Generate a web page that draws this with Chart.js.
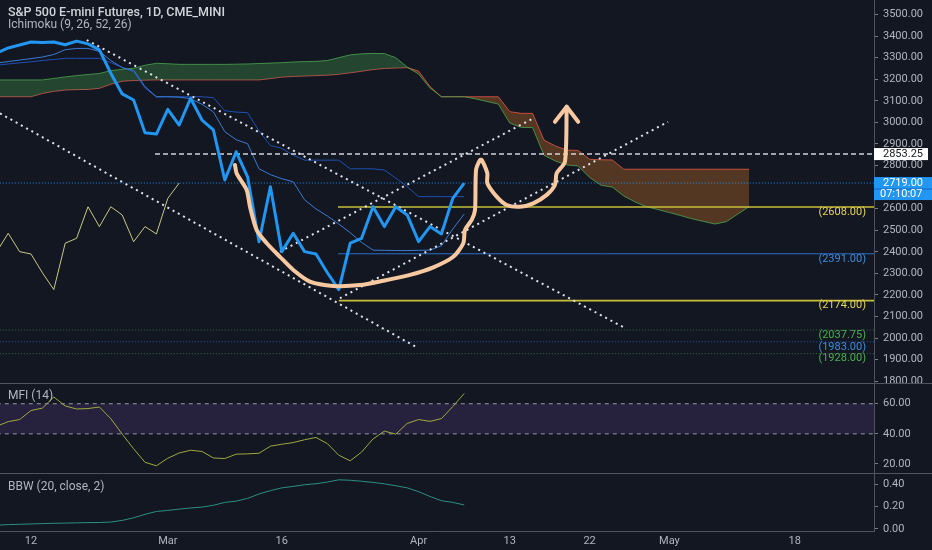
<!DOCTYPE html>
<html lang="en">
<head>
<meta charset="UTF-8">
<title>S&amp;P 500 E-mini Futures, 1D, CME_MINI</title>
<script src="https://cdn.jsdelivr.net/npm/chart.js@4.4.1/dist/chart.umd.min.js"></script>
<style>
    html, body { margin: 0; padding: 0; background: #131722; }
    #wrap { position: relative; width: 932px; height: 550px; background: #131722; overflow: hidden;
            font-family: Roboto, 'Noto Sans', sans-serif; }
    .pane { position: absolute; left: 0; width: 932px; }
    .sep { position: absolute; left: 0; width: 932px; height: 1px; background: #50535e; }
    .title { position: absolute; left: 8px; color: #b2b5be; font-size: 12px; white-space: nowrap; }
</style>
</head>
<body>
<div id="wrap">
    <div class="pane" style="top:0;height:383px"><canvas id="mainChart"></canvas></div>
    <div class="sep" style="top:383px"></div>
    <div class="pane" style="top:384px;height:89px"><canvas id="mfiChart"></canvas></div>
    <div class="sep" style="top:473px"></div>
    <div class="pane" style="top:474px;height:76px"><canvas id="bbwChart"></canvas></div>
    <div class="title" style="top:4px;font-size:12.5px;font-weight:500;color:#d1d4dc">S&amp;P 500 E-mini Futures, 1D, CME_MINI</div>
    <div class="title" style="top:17px">Ichimoku (9, 26, 52, 26)</div>
    <div class="title" style="top:388px">MFI (14)</div>
    <div class="title" style="top:479px">BBW (20, close, 2)</div>
</div>

<script>
    // bar index 0 = Feb 12; series start at bar -3
    const firstBar = -3;
    const xMin = -2.72, xMax = 73.95;

    const tickBars = [0, 12, 22, 34, 42, 49, 56, 67];
    const tickLabels = ['12', 'Mar', '16', 'Apr', '13', '22', 'May', '18'];

    const closes = [3322, 3345, 3359, 3373, 3370, 3373, 3360, 3377, 3364, 3336, 3228, 3132, 3104, 2952, 2946, 3061, 2988, 3112, 3011, 2965,
                    2733, 2864, 2748, 2447, 2702, 2401, 2486, 2401, 2390, 2303, 2225, 2440, 2463, 2609, 2517, 2609, 2571, 2447, 2517, 2483, 2648, 2719];
    const tenkan = [3275, 3282, 3289, 3296, 3303, 3315, 3337, 3343, 3343, 3329, 3287, 3254, 3241, 3166, 3119, 3119, 3117, 3110, 3084, 3049,
                    2957, 2920, 2901, 2785, 2758, 2739, 2725, 2641, 2599, 2566, 2529, 2489, 2444, 2408, 2407, 2406, 2406, 2407, 2408, 2428, 2506, 2575];
    const kijun = [3265, 3271, 3276, 3281, 3287, 3292, 3297, 3297, 3297, 3297, 3277, 3255, 3235, 3160, 3118, 3119, 3119, 3119, 3119, 3115,
                   3054, 3048, 3045, 2961, 2893, 2880, 2848, 2825, 2825, 2825, 2825, 2785, 2785, 2785, 2779, 2742, 2702, 2656, 2656, 2656, 2656, 2656];
    const chikouShift = 25;
    const senkouA = [3197, 3197, 3197, 3197, 3197, 3204, 3211, 3217, 3222, 3227, 3240, 3246, 3251, 3265, 3274, 3272, 3269, 3269, 3269, 3269,
                     3269, 3270, 3271, 3273, 3275, 3277, 3280, 3282, 3283, 3287, 3300, 3313, 3318, 3320, 3319, 3300, 3257, 3224, 3160, 3119,
                     3119, 3119, 3109, 3097, 3085, 2997, 2977, 2976, 2848, 2821, 2803, 2798, 2745, 2709, 2700, 2659, 2631, 2609, 2596, 2582,
                     2568, 2553, 2541, 2529, 2540, 2575, 2610];
    const senkouB = [3119, 3119, 3119, 3119, 3134, 3144, 3150, 3152, 3153, 3158, 3177, 3191, 3194, 3196, 3197, 3197, 3197, 3197, 3197, 3197,
                     3197, 3197, 3197, 3197, 3203, 3210, 3213, 3215, 3217, 3219, 3223, 3230, 3237, 3245, 3250, 3252, 3254, 3238, 3166, 3119,
                     3119, 3119, 3119, 3119, 3119, 3050, 3042, 3042, 2918, 2891, 2872, 2870, 2829, 2827, 2826, 2783, 2783, 2783, 2783, 2783,
                     2783, 2783, 2783, 2783, 2783, 2783, 2783];
    const mfi = [45.1, 48.1, 49.5, 55.5, 57.1, 64.5, 58.5, 56.5, 56.8, 57.8, 50.1, 39.8, 30.1, 21.1, 18.8, 23.8, 27.3, 29.1, 28.3, 24,
                 23.6, 26.5, 26.7, 27.1, 31.8, 33.1, 34.2, 36.1, 37.6, 33.5, 25.8, 22.1, 27.9, 36.6, 41.8, 39.8, 46.9, 49.5, 48.3, 50.1, 58.1, 66.8];
    const bbw = [0.034, 0.039, 0.042, 0.045, 0.048, 0.051, 0.053, 0.055, 0.057, 0.058, 0.062, 0.077, 0.1, 0.131, 0.157, 0.166, 0.178, 0.188,
                 0.196, 0.212, 0.238, 0.249, 0.274, 0.313, 0.343, 0.368, 0.381, 0.396, 0.405, 0.42, 0.44, 0.436, 0.427, 0.417, 0.404, 0.387,
                 0.368, 0.334, 0.291, 0.253, 0.238, 0.215];

    const priceTicks = [1800, 1900, 2000, 2100, 2200, 2300, 2400, 2500, 2600, 2700, 2800, 2900, 3000, 3100, 3200, 3300, 3400, 3500];
    const mfiTicks = [20, 40, 60];
    const mfiBand = [40, 60];
    const bbwTicks = [0, 0.2, 0.4];

    // drawn levels (price, first bar)
    const levelPrices = [2853.25, 2719, 2608, 2391, 2174, 2037.75, 1983, 1928];
    const levelStarts = [10.88, -3, 26.93, 26.93, 27.0, -3, -3, -3];
    const labelledLevels = [2608, 2391, 2174, 2037.75, 1983, 1928];
    const lastPrice = 2719;
    const countdown = '07:10:07';
    const markedPrice = 2853.25;

    // trend lines: [bar0, price0, bar1, price1]
    const trendLines = [
        [4.89, 3382, 52.1, 2047],
        [-2.72, 3042, 33.95, 1954],
        [21.84, 2401, 44.06, 3019],
        [27.1, 2185, 55.88, 3003]
    ];

    // hand drawn cup & handle sketch
    const cupBars = [17.89, 18.04, 18.92, 19.21, 19.8, 20.68, 21.84, 23.01, 24.47, 26.52, 28.86, 30.9, 33.25, 35.29, 37.04, 37.92, 38.07,
                     38.66, 38.95, 39.04, 39.39, 39.54, 40.03, 40.03, 40.85, 41.73, 42.89, 44.06, 45.24, 45.96, 46.11, 46.84, 46.99];
    const cupPrices = [2803, 2764, 2687, 2609, 2501, 2440, 2377, 2316, 2262, 2242, 2246, 2266, 2293, 2328, 2377, 2440, 2501,
                       2548, 2594, 2779, 2826, 2826, 2764, 2718, 2656, 2617, 2609, 2625, 2664, 2710, 2764, 2818, 3073];
    const arrowBars = [45.96, 46.99, 48.0];
    const arrowPrices = [3003, 3073, 3003];

    const BG = '#131722';
    const AXIS_TEXT = '#b2b5be';
    const FONT = 'Roboto, "Noto Sans", sans-serif';

    const levelStyles = [
        { color: '#d1d4dc', dash: [5, 3], width: 1.5 },
        { color: 'rgba(33,150,243,0.9)', dash: [1, 2], width: 1 },
        { color: '#c9bf3c', dash: [], width: 1.3 },
        { color: '#2a6fc9', dash: [], width: 1 },
        { color: '#c9bf3c', dash: [], width: 1.8 },
        { color: 'rgba(76,175,80,0.6)', dash: [1, 2], width: 1 },
        { color: 'rgba(41,121,255,0.7)', dash: [1, 2], width: 1 },
        { color: 'rgba(76,175,80,0.6)', dash: [1, 2], width: 1 }
    ];
    const labelColors = { 2608: '#e3d45a', 2391: '#3d8bdb', 2174: '#e3d45a', 2037.75: '#4caf50', 1983: '#3d8bdb', 1928: '#4caf50' };

    function series(values, start) {
        return values.map((v, k) => ({ x: start + k, y: v }));
    }
    function pairs(xs, ys) {
        return xs.map((x, k) => ({ x: x, y: ys[k] }));
    }
    function line(data, color, width, extra) {
        return Object.assign({ data: data, borderColor: color, borderWidth: width, pointRadius: 0, fill: false, tension: 0 }, extra || {});
    }

    function yAxis(min, max, ticks, digits) {
        return {
            position: 'right', min: min, max: max,
            afterBuildTicks: s => { s.ticks = ticks.map(v => ({ value: v })); },
            afterFit: s => { s.width = 58; s.paddingTop = 0; s.paddingBottom = 0; },
            grid: { drawOnChartArea: false, drawTicks: true, tickLength: 4, tickColor: '#787b86' },
            border: { display: true, color: '#50535e' },
            ticks: { color: AXIS_TEXT, font: { family: FONT, size: 11 }, padding: 5, autoSkip: false,
                     callback: v => Number(v).toFixed(digits) }
        };
    }
    const hiddenX = { type: 'linear', min: xMin, max: xMax, display: false };

    // ---------- main pane ----------
    // cloud: green where span A is on top, orange where span B is on top
    const cloudHi = senkouA.map((a, k) => Math.max(a, senkouB[k]));
    const cloudLo = senkouA.map((a, k) => Math.min(a, senkouB[k]));

    const ds = [];
    const idxB = ds.push(line(series(senkouB, firstBar), 'rgba(239,83,80,0.75)', 1)) - 1;
    ds.push(line(series(cloudHi, firstBar), 'rgba(0,0,0,0)', 0, { fill: idxB, backgroundColor: 'rgba(76,175,80,0.3)' }));
    ds.push(line(series(cloudLo, firstBar), 'rgba(0,0,0,0)', 0, { fill: idxB, backgroundColor: 'rgba(255,140,40,0.28)' }));
    ds.push(line(series(senkouA, firstBar), 'rgba(76,175,80,0.75)', 1));
    ds.push(line(closes.map((v, j) => ({ x: firstBar + j - chikouShift, y: v })), 'rgba(232,230,150,0.85)', 1));
    ds.push(line(series(kijun, firstBar), '#1f4fb4', 1));
    ds.push(line(series(tenkan, firstBar), '#3a7bd5', 1));
    levelPrices.forEach((p, k) => {
        const st = levelStyles[k];
        ds.push(line([{ x: levelStarts[k], y: p }, { x: 80, y: p }], st.color, st.width, { borderDash: st.dash }));
    });
    trendLines.forEach(t => {
        ds.push(line([{ x: t[0], y: t[1] }, { x: t[2], y: t[3] }], '#e0e3eb', 2, { borderDash: [2, 4] }));
    });
    ds.push(line(series(closes, firstBar), '#2196f3', 3, { borderJoinStyle: 'round' }));
    ds.push(line(pairs(cupBars, cupPrices), '#f8c9a0', 4, { tension: 0.25, borderCapStyle: 'round', borderJoinStyle: 'round' }));
    ds.push(line(pairs(arrowBars, arrowPrices), '#f8c9a0', 4, { borderCapStyle: 'round', borderJoinStyle: 'round' }));
    ds.forEach((d, k) => { d.order = -k; });

    const overlay = {
        id: 'overlay',
        afterDraw(chart) {
            const ctx = chart.ctx, y = chart.scales.y, right = chart.chartArea.right;
            ctx.save();
            ctx.font = '11px ' + FONT;
            ctx.textBaseline = 'middle';
            ctx.textAlign = 'right';
            labelledLevels.forEach(p => {
                ctx.fillStyle = labelColors[p];
                ctx.fillText('(' + p.toFixed(2) + ')', right - 8, y.getPixelForValue(p) + 5);
            });
            ctx.textAlign = 'left';
            // marked price box
            let py = y.getPixelForValue(markedPrice);
            ctx.fillStyle = '#ffffff';
            ctx.fillRect(right, py - 6, 54, 12);
            ctx.fillStyle = BG;
            ctx.fillText(markedPrice.toFixed(2), right + 9, py + 0.5);
            // last price + countdown
            py = y.getPixelForValue(lastPrice);
            ctx.fillStyle = '#2196f3';
            ctx.fillRect(right, py - 6, 58, 23);
            ctx.fillStyle = '#1565c0';
            ctx.fillRect(right, py + 5.5, 58, 1);
            ctx.fillStyle = '#ffffff';
            ctx.fillText(lastPrice.toFixed(2), right + 9, py + 0.5);
            ctx.fillText(countdown, right + 6, py + 11.5);
            ctx.restore();
        }
    };

    new Chart(document.getElementById('mainChart'), {
        type: 'line',
        data: { datasets: ds },
        options: {
            responsive: true, maintainAspectRatio: false, animation: false,
            layout: { padding: 0 },
            plugins: { legend: { display: false }, tooltip: { enabled: false } },
            scales: { x: hiddenX, y: yAxis(1792, 3567.5, priceTicks, 2) }
        },
        plugins: [overlay]
    });

    // ---------- MFI pane ----------
    new Chart(document.getElementById('mfiChart'), {
        type: 'line',
        data: {
            datasets: [
                line(series(mfi, firstBar), '#a0a83c', 1, { order: -2 }),
                line([{ x: -3, y: mfiBand[1] }, { x: 80, y: mfiBand[1] }], '#9598a1', 1,
                    { borderDash: [4, 4], fill: '+1', backgroundColor: 'rgba(126,87,194,0.18)', order: 0 }),
                line([{ x: -3, y: mfiBand[0] }, { x: 80, y: mfiBand[0] }], '#9598a1', 1, { borderDash: [4, 4], order: -1 })
            ]
        },
        options: {
            responsive: true, maintainAspectRatio: false, animation: false,
            layout: { padding: 0 },
            plugins: { legend: { display: false }, tooltip: { enabled: false } },
            scales: { x: hiddenX, y: yAxis(14, 73.1, mfiTicks, 2) }
        }
    });

    // ---------- BBW pane ----------
    const cutLabels = {
        id: 'cutLabels',
        afterDraw(chart) {
            const a = chart.chartArea, ctx = chart.ctx;
            ctx.save();
            ctx.fillStyle = BG;
            ctx.fillRect(a.right + 1, a.bottom + 1, chart.width - a.right, chart.height - a.bottom);
            ctx.restore();
        }
    };

    new Chart(document.getElementById('bbwChart'), {
        type: 'line',
        data: { datasets: [line(series(bbw, firstBar), '#2b8f87', 1)] },
        options: {
            responsive: true, maintainAspectRatio: false, animation: false,
            layout: { padding: 0 },
            plugins: { legend: { display: false }, tooltip: { enabled: false } },
            scales: {
                x: {
                    type: 'linear', min: xMin, max: xMax, position: 'bottom',
                    afterBuildTicks: s => { s.ticks = tickBars.map(v => ({ value: v })); },
                    afterFit: s => { s.height = 19; s.paddingLeft = 0; s.paddingRight = 0; },
                    grid: { drawOnChartArea: false, drawTicks: false },
                    border: { display: true, color: '#50535e' },
                    ticks: { color: AXIS_TEXT, font: { family: FONT, size: 11 }, padding: 4, autoSkip: false, maxRotation: 0,
                             callback: v => tickLabels[tickBars.indexOf(v)] }
                },
                y: yAxis(-0.018, 0.492, bbwTicks, 2)
            }
        },
        plugins: [cutLabels]
    });
</script>
</body>
</html>
